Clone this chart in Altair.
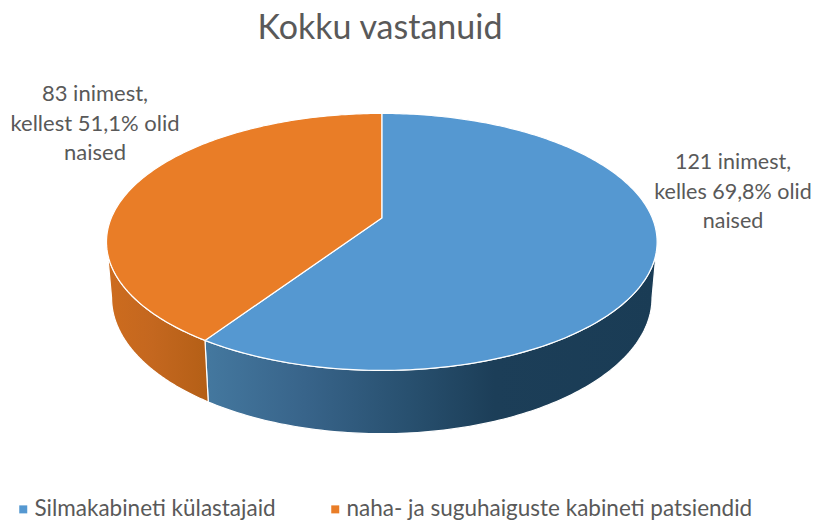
import numpy as np
import altair as alt

# ---- values
categories = ["Silmakabineti külastajaid", "naha- ja suguhaiguste kabineti patsiendid"]
people = [121, 83]
slice_labels = ["121 inimest,\nkelles 69,8% olid\nnaised", "83 inimest,\nkellest 51,1% olid\nnaised"]
title_text = ["Kokku vastanuid"]

# ---- colours
top_colors = ["#5598D1", "#E97D27"]
TEXT = "#595959"
FONT = "Lato"

# ---- perspective of the tilted disc (canvas pixels = page pixels - 8)
K = -0.186
TOP = dict(cx=373.8, a=270.5, c0=210.0, c1=85.0)
BOT = dict(cx=373.8, a=265.5, c0=264.5, c1=82.0)


def project(deg, p):
    t = np.radians(deg)
    u, v = np.sin(t), -np.cos(t)
    d = 1 + K * v
    return [[float(x), float(y)] for x, y in zip(p["cx"] + p["a"] * u / d, (p["c0"] + p["c1"] * v) / d)]


def feature(name, ring):
    ring = ring + [ring[0]]
    return {"type": "Feature", "properties": {"name": name},
            "geometry": {"type": "Polygon", "coordinates": [ring]}}


total = sum(people)
split = 360.0 * people[0] / total
RIGHT_EDGE, LEFT_EDGE = 100.7, 259.3  # where the disc's silhouette turns

apex = [TOP["cx"], TOP["c0"]]
top_faces = [
    feature(categories[0], [apex] + project(np.linspace(0, split, 240), TOP)),
    feature(categories[1], [apex] + project(np.linspace(split, 360, 160), TOP)),
]


def wall(name, a, b):
    th = np.linspace(a, b, 120)
    return feature(name, project(th, TOP) + project(th[::-1], BOT))


wall_blue = [wall(categories[0], RIGHT_EDGE, split)]
wall_orange = [wall(categories[1], split, LEFT_EDGE)]

PROJ = dict(type="identity", scale=1, translate=[0, 0])

grad_blue = alt.Gradient(
    gradient="linear", x1=0, x2=1, y1=0, y2=0,
    stops=[
        alt.GradientStop(offset=0.0, color="#44789F"),
        alt.GradientStop(offset=0.22, color="#38648A"),
        alt.GradientStop(offset=0.45, color="#28506F"),
        alt.GradientStop(offset=0.64, color="#1C3E58"),
        alt.GradientStop(offset=1.0, color="#1A3C55"),
    ],
)
grad_orange = alt.Gradient(
    gradient="linear", x1=0, x2=1, y1=0, y2=0,
    stops=[
        alt.GradientStop(offset=0.0, color="#CD6C1E"),
        alt.GradientStop(offset=0.45, color="#C4671F"),
        alt.GradientStop(offset=1.0, color="#B45F16"),
    ],
)

walls_b = alt.Chart(alt.Data(values=wall_blue)).mark_geoshape(
    fill=grad_blue, stroke="white", strokeWidth=1.2).project(**PROJ)
walls_o = alt.Chart(alt.Data(values=wall_orange)).mark_geoshape(
    fill=grad_orange, stroke="white", strokeWidth=1.2).project(**PROJ)

faces = alt.Chart(alt.Data(values=top_faces)).mark_geoshape(
    stroke="white", strokeWidth=1.2
).encode(
    color=alt.Color(
        "properties.name:N",
        scale=alt.Scale(domain=categories, range=top_colors),
        legend=alt.Legend(
            orient="none", legendX=4, legendY=490, columns=2, title=None,
            symbolType="square", symbolSize=64, symbolStrokeWidth=0, labelOffset=0,
            labelFont=FONT, labelFontSize=22.5, labelColor=TEXT, labelLimit=600,
            columnPadding=48, padding=0,
        ),
    )
).project(**PROJ)

t_title = alt.Chart(alt.Data(values=[{"t": s} for s in title_text])).mark_text(
    x=372, y=21, font=FONT, fontSize=34, color=TEXT, align="center", baseline="middle"
).encode(text="t:N")

label_data = alt.Data(values=[{"t": s} for s in slice_labels[:1]])
t_l1 = alt.Chart(label_data).mark_text(
    x=725, y=155, font=FONT, fontSize=21.5, color=TEXT, align="center", baseline="middle",
    lineBreak="\n", lineHeight=29.5
).encode(text="t:N")
label_data2 = alt.Data(values=[{"t": s} for s in slice_labels[1:]])
t_l2 = alt.Chart(label_data2).mark_text(
    x=87, y=86, font=FONT, fontSize=22, color=TEXT, align="center", baseline="middle",
    lineBreak="\n", lineHeight=29.5
).encode(text="t:N")

chart = alt.layer(walls_b, walls_o, faces, t_title, t_l1, t_l2).properties(
    width=804, height=512, padding=0, autosize=alt.AutoSizeParams(type="none"),
    background="white",
).configure_view(stroke=None)

chart.save("out.html", embed_options={"renderer": "svg", "actions": False})
